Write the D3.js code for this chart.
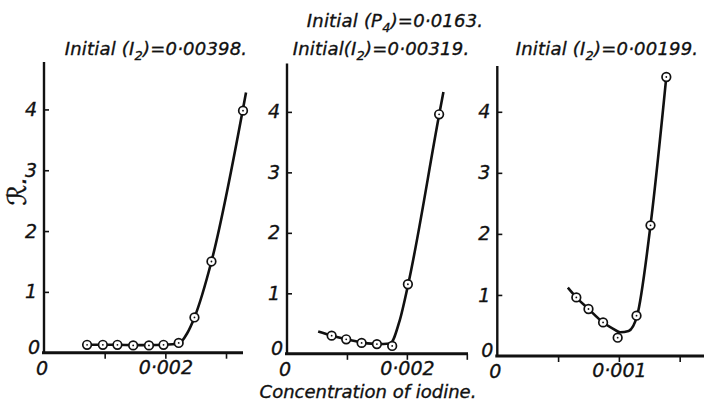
<!DOCTYPE html>
<html><head><meta charset="utf-8">
<script src="https://cdn.jsdelivr.net/npm/d3@7/dist/d3.min.js"></script>
<style>
body{margin:0;background:#fff;}
svg text{font-family:'DejaVu Sans',sans-serif;font-style:italic;fill:#111;stroke:#111;stroke-width:0.35px;}
</style></head>
<body><svg id="c" width="708" height="402"></svg>
<script>
// ---- data ----
const mainTitle = ["Initial (P", "4", ")=0·0163."];
const panelTitles = [
  ["Initial (I", "2", ")=0·00398."],
  ["Initial(I", "2", ")=0·00319."],
  ["Initial (I", "2", ")=0·00199."]
];
const xLabel = "Concentration of iodine.";
const yLabel = "ℛ.";
const yTicks = [1, 2, 3, 4];
const xTicks1 = [0.001, 0.002, 0.003];
const xTicks2 = [0.001, 0.002, 0.003];
const xTicks3 = [0.0005, 0.001, 0.0015];
const xTickLabels1 = {0.002: "0·002"};
const xTickLabels2 = {0.002: "0·002"};
const xTickLabels3 = {0.001: "0·001"};

const iodine1 = [0.00071, 0.00097, 0.00121, 0.00147, 0.00173, 0.00197, 0.00222, 0.00248, 0.00276, 0.00328];
const R1      = [0.13, 0.13, 0.13, 0.12, 0.12, 0.13, 0.16, 0.58, 1.5, 3.98];
const iodine2 = [0.000745, 0.000988, 0.001245, 0.0015, 0.001755, 0.002017, 0.002538];
const R2      = [0.30, 0.24, 0.18, 0.16, 0.13, 1.15, 3.96];
const iodine3 = [0.00065, 0.00075, 0.00087, 0.00099, 0.001145, 0.00126, 0.00139];
const R3      = [0.96, 0.77, 0.55, 0.30, 0.66, 2.14, 4.57];

// drawn smooth curves
const curveX1 = [0.00071, 0.00097, 0.00121, 0.00147, 0.00173, 0.00197, 0.00222, 0.00236, 0.00248, 0.00276, 0.00333];
const curveY1 = [0.13, 0.13, 0.13, 0.125, 0.125, 0.13, 0.15, 0.32, 0.58, 1.5, 4.28];
const curveX2 = [0.00052, 0.00075, 0.00099, 0.00124, 0.0015, 0.00172, 0.00188, 0.00202, 0.00254, 0.00261];
const curveY2 = [0.37, 0.30, 0.24, 0.19, 0.16, 0.17, 0.55, 1.14, 3.96, 4.33];
const curveX3 = [0.00058, 0.00065, 0.00075, 0.00087, 0.00095, 0.00101, 0.00108, 0.00115, 0.00126, 0.00139];
const curveY3 = [1.12, 0.96, 0.77, 0.55, 0.45, 0.39, 0.41, 0.66, 2.14, 4.57];

// ---- layout ----
const panels = [
  {x0:44, x1:243, y0:352.7, y1:62, xmax:0.00328, ymax:4.78, xs:iodine1, ys:R1, cx:curveX1, cy:curveY1, ticks:xTicks1, tl:xTickLabels1, title:panelTitles[0], tx:156},
  {x0:287, x1:468, y0:353.8, y1:63.5, xmax:0.00302, ymax:4.8, xs:iodine2, ys:R2, cx:curveX2, cy:curveY2, ticks:xTicks2, tl:xTickLabels2, title:panelTitles[1], tx:381},
  {x0:497.3, x1:704, y0:356, y1:66, xmax:0.0017, ymax:4.75, xs:iodine3, ys:R3, cx:curveX3, cy:curveY3, ticks:xTicks3, tl:xTickLabels3, title:panelTitles[2], tx:607}
];

const svg = d3.select("#c");

function subText(g, parts, x, y, size, ls){
  const t = g.append("text").attr("x", x).attr("y", y).attr("text-anchor","middle")
    .style("font-size", size+"px").style("letter-spacing", ls+"px");
  t.append("tspan").text(parts[0]);
  t.append("tspan").attr("dy", size*0.28).style("font-size", (size*0.72)+"px").text(parts[1]);
  t.append("tspan").attr("dy", -size*0.28).text(parts[2]);
  return t;
}

subText(svg, mainTitle, 395, 27, 18, 0.2);

panels.forEach((p, i) => {
  const x = d3.scaleLinear().domain([0, p.xmax]).range([p.x0, p.x1]);
  const y = d3.scaleLinear().domain([0, p.ymax]).range([p.y0, p.y1]);
  const g = svg.append("g");

  subText(g, p.title, p.tx, 55, 18, 0.2);

  // x axis
  const xa = g.append("g").attr("transform", `translate(0,${p.y0})`)
    .call(d3.axisBottom(x).tickValues(p.ticks).tickSize(6).tickPadding(2).tickFormat(d => p.tl[d] || ""));
  xa.select(".domain").attr("stroke","#111").attr("stroke-width",3).attr("d", `M${p.x0-2},0H${p.x1}`);
  xa.selectAll(".tick line").attr("stroke","#111").attr("stroke-width",1.6);
  xa.selectAll(".tick text").attr("dy","0.7em").style("font-size","19px").attr("fill","#111");
  g.append("text").attr("x", p.x0-2).attr("y", p.y0+22).attr("text-anchor","middle").style("font-size","19px").text("0");

  // y axis
  const ya = g.append("g").attr("transform", `translate(${p.x0},0)`)
    .call(d3.axisLeft(y).tickValues(yTicks).tickSize(-5).tickPadding(7).tickFormat(d3.format("d")));
  ya.select(".domain").attr("stroke","#111").attr("stroke-width",2.4).attr("d", `M0,${p.y0}V${p.y1}`);
  ya.selectAll(".tick line").attr("stroke","#111").attr("stroke-width",1.6);
  ya.selectAll(".tick text").style("font-size","19px").attr("fill","#111");
  g.append("text").attr("x", p.x0-10).attr("y", p.y0+1).attr("text-anchor","middle").style("font-size","19px").text("0");

  // curve
  const pts = p.cx.map((v, k) => [v, p.cy[k]]);
  g.append("path").datum(pts)
    .attr("d", d3.line().x(d => x(d[0])).y(d => y(d[1])).curve(d3.curveMonotoneX))
    .attr("fill","none").attr("stroke","#111").attr("stroke-width",2.6);

  // markers
  const data = p.xs.map((v, k) => [v, p.ys[k]]);
  g.selectAll("circle.m").data(data).join("circle").attr("class","m")
    .attr("cx", d => x(d[0])).attr("cy", d => y(d[1])).attr("r", 4.3)
    .attr("fill","#fff").attr("stroke","#111").attr("stroke-width",1.7);
  g.selectAll("circle.d").data(data).join("circle").attr("class","d")
    .attr("cx", d => x(d[0])).attr("cy", d => y(d[1])).attr("r", 0.9).attr("fill","#111");
});

// axis labels
svg.append("text").attr("x", 368).attr("y", 398).attr("text-anchor","middle").style("font-size","18px").text(xLabel);
svg.append("text").attr("transform","translate(26,191) rotate(-90)").attr("text-anchor","middle").style("font-size","26px").text(yLabel);
</script></body></html>
